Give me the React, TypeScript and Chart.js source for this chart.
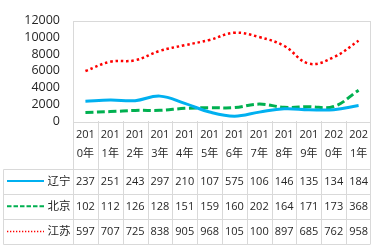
import React, { useEffect, useRef } from "react";
import { Chart, registerables } from "chart.js";

Chart.register(...registerables);

const categories = ["2010年", "2011年", "2012年", "2013年", "2014年", "2015年", "2016年", "2017年", "2018年", "2019年", "2020年", "2021年"];
const seriesNames = ["辽宁", "北京", "江苏"];
const liaoning = [2370, 2510, 2430, 2970, 2100, 1070, 575, 1060, 1460, 1350, 1340, 1840];
const beijing = [1020, 1120, 1260, 1280, 1510, 1590, 1600, 2020, 1640, 1710, 1730, 3680];
const jiangsu = [5970, 7070, 7250, 8380, 9050, 9680, 10540, 10020, 8970, 6850, 7620, 9580];
const seriesColors = ["#00B0F0", "#00B050", "#FF0000"];
const yTicks = [0, 2000, 4000, 6000, 8000, 10000, 12000];

const FONT = '"Open Sans", "Noto Sans CJK SC", sans-serif';
const GRID = "#D9D9D9";
const TEXT = "#262626";

const tablePlugin = {
  id: "dataTable",
  afterDraw(chart: any) {
    const ctx = chart.ctx as CanvasRenderingContext2D;
    const ca = chart.chartArea;
    const xs = chart.scales.x;
    const n = categories.length;
    const colW = (ca.right - ca.left) / n;
    const headerBottom = 168.5;
    const rowH = 25.2;
    const tableLeft = 3.5;
    const tableBottom = headerBottom + rowH * 3;

    ctx.save();
    ctx.strokeStyle = GRID;
    ctx.lineWidth = 1;
    ctx.strokeRect(Math.round(ca.left) + 0.5, Math.round(ca.top) + 0.5, Math.round(ca.right - ca.left) - 1, Math.round(ca.bottom - ca.top));
    for (let i = 0; i <= n; i++) {
      const cx = i < n ? xs.getPixelForValue(i) - colW / 2 : xs.getPixelForValue(n - 1) + colW / 2;
      const px = Math.round(cx) + 0.5 - (i === n ? 1 : 0);
      ctx.beginPath();
      ctx.moveTo(px, ca.bottom);
      ctx.lineTo(px, tableBottom);
      ctx.stroke();
    }
    for (let r = 0; r <= 3; r++) {
      const y = Math.round(headerBottom + r * rowH) + 0.5;
      ctx.beginPath();
      ctx.moveTo(tableLeft, y);
      ctx.lineTo(ca.right - 0.5, y);
      ctx.stroke();
    }
    ctx.beginPath();
    ctx.moveTo(tableLeft, Math.round(headerBottom) + 0.5);
    ctx.lineTo(tableLeft, Math.round(tableBottom) + 0.5);
    ctx.stroke();

    ctx.fillStyle = TEXT;
    ctx.font = `11px ${FONT}`;
    ctx.textAlign = "center";
    ctx.textBaseline = "middle";
    for (let i = 0; i < n; i++) {
      const cx = xs.getPixelForValue(i);
      const lab = categories[i];
      ctx.fillText(lab.slice(0, 3), cx, 135);
      ctx.fillText(lab.slice(3), cx, 153.5);
    }

    const data = [liaoning, beijing, jiangsu];
    const dashes = [[], [4.5, 2], [1.3, 1.7]];
    const widths = [2, 2, 1.5];
    for (let r = 0; r < 3; r++) {
      const cy = headerBottom + rowH * r + rowH / 2 + 0.5;
      ctx.save();
      ctx.strokeStyle = seriesColors[r];
      ctx.lineWidth = widths[r];
      ctx.setLineDash(dashes[r]);
      ctx.beginPath();
      ctx.moveTo(7, cy - 0.5);
      ctx.lineTo(44, cy - 0.5);
      ctx.stroke();
      ctx.restore();
      ctx.fillStyle = TEXT;
      ctx.font = `11.5px ${FONT}`;
      ctx.textAlign = "right";
      ctx.fillText(seriesNames[r], 70.5, cy);
      ctx.font = `11px ${FONT}`;
      ctx.textAlign = "center";
      for (let i = 0; i < n; i++) {
        const cx = xs.getPixelForValue(i);
        ctx.fillText(String(data[r][i]).slice(0, 3), cx, cy);
      }
    }
    ctx.restore();
  },
};

export default function App() {
  const ref = useRef<HTMLCanvasElement>(null);
  useEffect(() => {
    if (!ref.current) return;
    const chart = new Chart(ref.current, {
      type: "line",
      data: {
        labels: categories,
        datasets: [
          { label: seriesNames[0], data: liaoning, borderColor: seriesColors[0], borderWidth: 3, pointRadius: 0, tension: 0.4, fill: false },
          { label: seriesNames[1], data: beijing, borderColor: seriesColors[1], borderWidth: 3, borderDash: [8, 3.5], pointRadius: 0, tension: 0.4, fill: false },
          { label: seriesNames[2], data: jiangsu, borderColor: seriesColors[2], borderWidth: 2.5, borderDash: [2.5, 2.8], pointRadius: 0, tension: 0.4, fill: false },
        ],
      },
      options: {
        responsive: false,
        animation: false,
        devicePixelRatio: 1,
        layout: { padding: { top: 9, right: 3, bottom: 125, left: 0 } },
        plugins: { legend: { display: false }, tooltip: { enabled: false } },
        scales: {
          x: { type: "category", offset: true, display: false },
          y: {
            min: 0,
            max: 12000,
            afterFit: (s: any) => { s.width = 73; },
            afterBuildTicks: (s: any) => { s.ticks = yTicks.map((v) => ({ value: v })); },
            grid: { display: false, drawTicks: false },
            border: { display: false },
            ticks: {
              font: { family: FONT, size: 12.5 },
              color: TEXT,
              padding: 13,
              callback: (v: any) => String(v),
            },
          },
        },
      },
      plugins: [tablePlugin],
    });
    return () => chart.destroy();
  }, []);
  return (
    <div style={{ position: "fixed", left: 0, top: 0, width: 374, height: 246, background: "#fff" }}>
      <canvas ref={ref} width={374} height={246} style={{ display: "block" }} />
    </div>
  );
}
